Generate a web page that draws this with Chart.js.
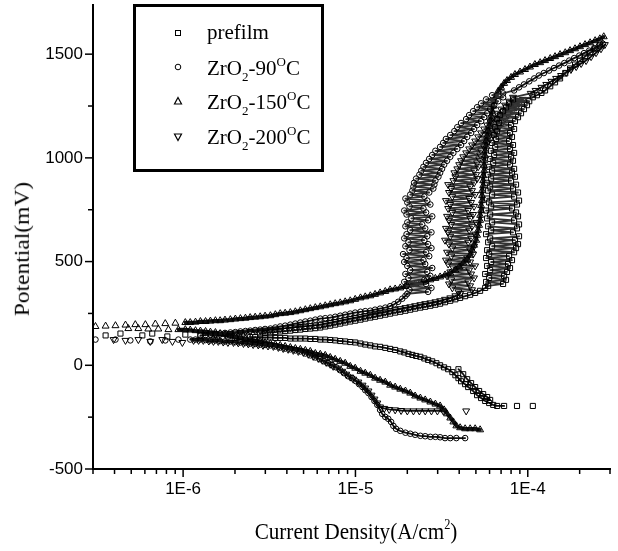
<!DOCTYPE html>
<html>
<head>
<meta charset="utf-8">
<script src="https://cdn.jsdelivr.net/npm/chart.js@4.4.0/dist/chart.umd.min.js"></script>
<style>
html, body { margin: 0; padding: 0; background: #fff; }
#wrap { position: relative; width: 618px; height: 551px; overflow: hidden; }
#c { position: absolute; left: 0; top: 0; }
.serif { position: absolute; font-family: 'Liberation Serif', 'Times New Roman', serif; color: #000; white-space: nowrap; line-height: 21px; font-size: 21px; }
.serif sub { font-size: 13px; vertical-align: -6px; line-height: 0; }
.serif sup { font-size: 13px; vertical-align: 9px; line-height: 0; }
#ytitle { left: 22px; top: 249px; font-size: 23.5px; transform: translate(-50%, -50%) rotate(-90deg) scaleY(0.9); }
#xtitle { left: 356px; top: 531px; font-size: 24px; transform: translate(-50%, -50%) scaleX(0.88); }
#xtitle sup { font-size: 14px; vertical-align: 10px; }
#legend { position: absolute; left: 133px; top: 4px; width: 191px; height: 168px; border: 3px solid #000; box-sizing: border-box; }
.mk { position: absolute; left: 171px; width: 14px; height: 14px; }
</style>
</head>
<body>
<div id="wrap">
  <canvas id="c" width="618" height="551"></canvas>
  <div id="legend"></div>
  <svg class="mk" style="top:26px" viewBox="0 0 14 14"><rect x="4.5" y="4.5" width="5" height="5" fill="none" stroke="#000" stroke-width="1"/></svg>
  <svg class="mk" style="top:60px" viewBox="0 0 14 14"><circle cx="7" cy="7" r="2.8" fill="none" stroke="#000" stroke-width="1"/></svg>
  <svg class="mk" style="top:94px" viewBox="0 0 14 14"><polygon points="7,3.5 10.5,10 3.5,10" fill="none" stroke="#000" stroke-width="1.2"/></svg>
  <svg class="mk" style="top:130px" viewBox="0 0 14 14"><polygon points="3.5,4 10.5,4 7,10.5" fill="none" stroke="#000" stroke-width="1.2"/></svg>
  <div class="serif" style="left:207px; top:22px">prefilm</div>
  <div class="serif" style="left:207px; top:58px">ZrO<sub>2</sub>-90<sup>O</sup>C</div>
  <div class="serif" style="left:207px; top:92px">ZrO<sub>2</sub>-150<sup>O</sup>C</div>
  <div class="serif" style="left:207px; top:127px">ZrO<sub>2</sub>-200<sup>O</sup>C</div>
  <div class="serif" id="ytitle">Potential(mV)</div>
  <div class="serif" id="xtitle">Current Density(A/cm<sup>2</sup>)</div>
</div>
<script>
// [current density (A/cm2), potential (mV)], in scan order:
// cathodic branch (far end -> corrosion potential), then anodic branch
var prefilm = [
  [1.07e-4,-196],[8.66e-5,-196],[7.29e-5,-196],[6.64e-5,-196],[6.3e-5,-191],[5.97e-5,-182],[5.66e-5,-172],
  [5.36e-5,-158],[5.08e-5,-144],[4.82e-5,-124],[4.51e-5,-105],[4.33e-5,-91],[4.1e-5,-77],[3.96e-5,-62],
  [3.8e-5,-48],[3.65e-5,-33],[3.45e-5,-19],[3.27e-5,-10],[3.1e-5,0],[2.95e-5,10],[2.79e-5,19],[2.64e-5,26],
  [2.51e-5,33],[2.38e-5,41],[2.25e-5,45],[2.14e-5,50],[2.03e-5,55],[1.92e-5,62],[1.82e-5,67],[1.7e-5,74],
  [1.59e-5,79],[1.49e-5,84],[1.39e-5,89],[1.3e-5,91],[1.22e-5,96],[1.14e-5,100],[1.07e-5,105],[9.97e-6,110],
  [9.33e-6,112],[8.72e-6,115],[8.16e-6,117],[7.63e-6,120],[7.14e-6,122],[6.68e-6,124],[6.25e-6,124],[5.85e-6,127],
  [5.47e-6,127],[5.12e-6,129],[4.79e-6,129],[4.48e-6,129],[4.19e-6,129],[3.91e-6,132],[3.66e-6,132],[3.43e-6,132],
  [3.21e-6,134],[2.99e-6,134],[2.8e-6,134],[2.62e-6,136],[2.45e-6,136],
  [2.15e-6,139],[1.83e-6,139],[1.54e-6,144],[1.26e-6,144],[1.03e-6,148],[8.1e-7,139],[6.62e-7,153],[5.8e-7,144],
  [4.33e-7,153],[3.55e-7,144],
  [3.96e-5,-19],[4.22e-5,-43],[4.45e-5,-67],[4.69e-5,-86],[4.95e-5,-105],[5.22e-5,-124],[5.51e-5,-139],
  [5.81e-5,-153],[6.05e-5,-167],
  [2.8e-6,153],[2.99e-6,156],[3.21e-6,158],[3.43e-6,160],[3.66e-6,163],[3.91e-6,165],[4.19e-6,167],[4.48e-6,170],
  [4.79e-6,172],[5.12e-6,175],[5.47e-6,177],[5.85e-6,179],[6.25e-6,182],[6.68e-6,187],[7.14e-6,191],[7.63e-6,196],
  [8.16e-6,201],[8.72e-6,206],[9.33e-6,211],[9.97e-6,215],[1.07e-5,220],[1.14e-5,225],[1.22e-5,230],[1.3e-5,234],
  [1.39e-5,239],[1.49e-5,244],[1.59e-5,249],[1.7e-5,254],[1.82e-5,258],[1.95e-5,263],[2.08e-5,268],[2.22e-5,273],
  [2.38e-5,278],[2.54e-5,282],[2.72e-5,287],[2.91e-5,292],[3.1e-5,297],[3.31e-5,304],[3.55e-5,311],[3.8e-5,318],
  [4.05e-5,325],[4.33e-5,333],[4.63e-5,340],[4.95e-5,349],[5.29e-5,359],[5.66e-5,373],
  [5.89e-5,383],[7.19e-5,392],[5.73e-5,402],[7.48e-5,412],[5.97e-5,421],[7.29e-5,431],[5.66e-5,440],[7.58e-5,450],
  [6.05e-5,459],[7.89e-5,469],[5.81e-5,479],[7.68e-5,488],[6.13e-5,498],[8.1e-5,507],[5.73e-5,517],[7.79e-5,526],
  [5.97e-5,536],[8.33e-5,545],[5.81e-5,555],[8.55e-5,565],[6.21e-5,574],[8.78e-5,584],[5.89e-5,593],[8.43e-5,603],
  [6.05e-5,612],[8.9e-5,622],[5.73e-5,632],[8.21e-5,641],[6.13e-5,651],[8.66e-5,660],[5.89e-5,670],[8.9e-5,679],
  [6.21e-5,689],[8.33e-5,699],[5.81e-5,708],[8.78e-5,718],[6.05e-5,727],[8.55e-5,737],[5.73e-5,746],[8.1e-5,756],
  [6.13e-5,766],[8.66e-5,775],[5.97e-5,785],[8.9e-5,794],[5.81e-5,804],[8.33e-5,813],[6.21e-5,823],[8.78e-5,833],
  [5.89e-5,842],[8.21e-5,852],[6.05e-5,861],[8.55e-5,871],[5.81e-5,880],[8.0e-5,890],[6.13e-5,900],[8.43e-5,909],
  [5.89e-5,919],[8.1e-5,928],[6.21e-5,938],[8.33e-5,947],[5.97e-5,957],[7.89e-5,967],[6.3e-5,976],[8.21e-5,986],
  [6.05e-5,995],[8.0e-5,1005],[6.38e-5,1014],[8.33e-5,1024],[6.13e-5,1034],[7.89e-5,1043],[6.47e-5,1053],
  [8.21e-5,1062],[6.21e-5,1072],[7.79e-5,1081],[6.55e-5,1091],[8.1e-5,1101],[6.38e-5,1110],[7.89e-5,1120],
  [6.64e-5,1129],[8.33e-5,1139],[6.47e-5,1148],[8.0e-5,1158],[6.82e-5,1168],[8.43e-5,1177],[6.64e-5,1187],
  [8.78e-5,1196],[6.91e-5,1206],[9.14e-5,1215],[7.19e-5,1225],[9.51e-5,1235],[7.48e-5,1244],[9.9e-5,1254],
  [7.79e-5,1263],[1.02e-4,1273],[8.21e-5,1282],
  [1.07e-4,1292],[1.13e-4,1302],[1.2e-4,1313],[1.26e-4,1325],[1.35e-4,1345],[1.44e-4,1364],[1.54e-4,1383],
  [1.65e-4,1407],[1.76e-4,1431],[1.88e-4,1450],[2.01e-4,1469],[2.15e-4,1488],[2.3e-4,1507],[2.46e-4,1526],
  [2.62e-4,1546]
];

var zr90 = [
  [4.33e-5,-351],[3.85e-5,-351],[3.55e-5,-351],[3.31e-5,-351],[3.1e-5,-347],[2.91e-5,-345],[2.72e-5,-345],
  [2.54e-5,-342],[2.38e-5,-340],[2.22e-5,-335],[2.08e-5,-330],[1.95e-5,-325],[1.82e-5,-316],[1.72e-5,-306],
  [1.66e-5,-292],[1.61e-5,-273],[1.55e-5,-258],[1.49e-5,-249],[1.43e-5,-234],[1.39e-5,-215],[1.34e-5,-191],
  [1.29e-5,-172],[1.24e-5,-153],[1.19e-5,-134],[1.14e-5,-120],[1.1e-5,-105],[1.05e-5,-91],[1.01e-5,-77],
  [9.58e-6,-62],[9.08e-6,-53],[8.6e-6,-38],[8.16e-6,-24],[7.73e-6,-10],[7.33e-6,0],[6.95e-6,10],[6.59e-6,19],
  [6.25e-6,29],[5.85e-6,38],[5.47e-6,48],[5.12e-6,57],[4.79e-6,67],[4.48e-6,72],[4.19e-6,77],[3.91e-6,81],
  [3.66e-6,86],[3.43e-6,91],[3.21e-6,96],[2.99e-6,98],[2.8e-6,100],[2.62e-6,103],[2.45e-6,105],[2.3e-6,108],
  [2.15e-6,110],[2.01e-6,112],[1.88e-6,115],[1.75e-6,115],[1.64e-6,117],[1.54e-6,120],[1.44e-6,120],[1.35e-6,122],
  [1.26e-6,124],[1.18e-6,124],[1.1e-6,124],
  [9.39e-7,124],[7.88e-7,120],[6.45e-7,115],[4.94e-7,120],[4.05e-7,124],[3.1e-7,124],
  [1.26e-6,144],[1.35e-6,146],[1.44e-6,148],[1.54e-6,151],[1.64e-6,153],[1.75e-6,156],[1.88e-6,158],[2.01e-6,160],
  [2.15e-6,163],[2.3e-6,165],[2.45e-6,167],[2.62e-6,170],[2.8e-6,172],[2.99e-6,175],[3.21e-6,177],[3.43e-6,182],
  [3.66e-6,187],[3.91e-6,191],[4.19e-6,196],[4.48e-6,201],[4.79e-6,206],[5.12e-6,211],[5.47e-6,215],[5.85e-6,220],
  [6.25e-6,225],[6.68e-6,227],[7.14e-6,230],[7.63e-6,234],[8.16e-6,239],[8.72e-6,244],[9.33e-6,249],[9.97e-6,254],
  [1.07e-5,258],[1.14e-5,261],[1.22e-5,263],[1.3e-5,268],[1.39e-5,273],[1.49e-5,278],[1.59e-5,285],[1.68e-5,294],
  [1.77e-5,306],[1.87e-5,321],[1.95e-5,335],
  [2.0e-5,345],[2.64e-5,354],[2.06e-5,364],[2.76e-5,373],[1.98e-5,383],[2.57e-5,392],[1.92e-5,402],[2.51e-5,412],
  [2.03e-5,421],[2.72e-5,431],[1.95e-5,440],[2.61e-5,450],[2.08e-5,459],[2.79e-5,469],[2.0e-5,479],[2.54e-5,488],
  [1.92e-5,498],[2.48e-5,507],[1.98e-5,517],[2.68e-5,526],[1.89e-5,536],[2.57e-5,545],[2.06e-5,555],[2.76e-5,565],
  [1.95e-5,574],[2.64e-5,584],[2.03e-5,593],[2.51e-5,603],[1.92e-5,612],[2.61e-5,622],[1.98e-5,632],[2.76e-5,641],
  [2.08e-5,651],[2.54e-5,660],[1.95e-5,670],[2.44e-5,679],[2.0e-5,689],[2.64e-5,699],[2.11e-5,708],[2.79e-5,718],
  [1.98e-5,727],[2.57e-5,737],[1.92e-5,746],[2.48e-5,756],[2.06e-5,766],[2.72e-5,775],[2.0e-5,785],[2.61e-5,794],
  [1.95e-5,804],[2.51e-5,813],[2.08e-5,823],[2.68e-5,833],
  [2.14e-5,842],[2.83e-5,852],[2.17e-5,861],[2.87e-5,871],[2.19e-5,880],[2.91e-5,890],[2.25e-5,900],[3.03e-5,909],
  [2.35e-5,919],[3.1e-5,928],[2.41e-5,938],[3.18e-5,947],[2.48e-5,957],[3.27e-5,967],[2.57e-5,976],[3.4e-5,986],
  [2.68e-5,995],[3.55e-5,1005],[2.79e-5,1014],[3.7e-5,1024],[2.91e-5,1034],[3.9e-5,1043],[3.1e-5,1053],
  [4.1e-5,1062],[3.23e-5,1072],[4.27e-5,1081],[3.35e-5,1091],[4.45e-5,1101],[3.55e-5,1110],[4.69e-5,1120],
  [3.75e-5,1129],[4.88e-5,1139],[3.9e-5,1148],[5.08e-5,1158],[4.1e-5,1168],[5.36e-5,1177],[4.39e-5,1187],
  [5.58e-5,1196],[4.57e-5,1206],[5.81e-5,1215],[4.82e-5,1225],[6.05e-5,1235],[5.08e-5,1244],[6.38e-5,1254],
  [5.36e-5,1263],[6.73e-5,1273],[5.73e-5,1282],[7.19e-5,1292],[6.21e-5,1302],[7.19e-5,1311],
  [8.33e-5,1325],[8.9e-5,1340],[9.51e-5,1354],[1.02e-4,1369],[1.09e-4,1383],[1.16e-4,1397],[1.24e-4,1409],
  [1.33e-4,1421],[1.42e-4,1433],[1.52e-4,1445],[1.63e-4,1457],[1.74e-4,1469],[1.86e-4,1481],[1.99e-4,1493],
  [2.12e-4,1505],[2.27e-4,1517],[2.43e-4,1529],[2.59e-4,1541],[2.73e-4,1550]
];

var zr150 = [
  [5.29e-5,-311],[4.95e-5,-306],[4.63e-5,-306],[4.33e-5,-306],[4.05e-5,-301],[3.85e-5,-292],[3.7e-5,-273],
  [3.55e-5,-254],[3.4e-5,-234],[3.27e-5,-215],[3.1e-5,-196],[2.91e-5,-187],[2.72e-5,-177],[2.54e-5,-167],
  [2.38e-5,-158],[2.22e-5,-148],[2.08e-5,-134],[1.95e-5,-124],[1.82e-5,-115],[1.7e-5,-105],[1.59e-5,-96],
  [1.49e-5,-81],[1.39e-5,-72],[1.3e-5,-62],[1.22e-5,-48],[1.14e-5,-38],[1.07e-5,-29],[9.97e-6,-14],[9.33e-6,-5],
  [8.72e-6,10],[8.16e-6,19],[7.63e-6,29],[7.14e-6,38],[6.68e-6,48],[6.25e-6,53],[5.85e-6,57],[5.47e-6,67],
  [5.12e-6,72],[4.79e-6,77],[4.48e-6,81],[4.19e-6,86],[3.91e-6,91],[3.66e-6,96],[3.43e-6,100],[3.21e-6,105],
  [2.99e-6,110],[2.8e-6,115],[2.62e-6,120],[2.45e-6,124],[2.3e-6,129],[2.15e-6,134],[2.01e-6,139],[1.88e-6,144],
  [1.75e-6,148],[1.64e-6,153],[1.54e-6,158],[1.44e-6,160],[1.35e-6,163],[1.26e-6,165],[1.18e-6,167],[1.1e-6,170],
  [1.03e-6,172],[9.39e-7,172],[8.22e-7,172],[7.18e-7,175],[6.28e-7,175],[5.5e-7,177],[4.81e-7,177],
  [3.1e-7,187],[3.55e-7,189],[4.05e-7,191],[4.63e-7,194],[5.28e-7,196],[6.04e-7,196],[6.9e-7,199],[7.88e-7,201],
  [9.02e-7,203],[1.03e-6,206],[1.1e-6,206],[1.18e-6,208],[1.26e-6,211],[1.35e-6,211],[1.44e-6,213],[1.54e-6,215],
  [1.64e-6,215],[1.75e-6,218],[1.88e-6,220],[2.01e-6,223],[2.15e-6,225],[2.3e-6,227],[2.45e-6,230],[2.62e-6,232],
  [2.8e-6,234],[2.99e-6,237],[3.21e-6,239],[3.43e-6,244],[3.66e-6,249],[3.91e-6,251],[4.19e-6,254],[4.48e-6,258],
  [4.79e-6,263],[5.12e-6,268],[5.47e-6,273],[5.85e-6,278],[6.25e-6,282],[6.68e-6,287],[7.14e-6,292],[7.63e-6,297],
  [8.16e-6,301],[8.72e-6,306],[9.33e-6,311],[9.97e-6,318],[1.07e-5,325],[1.14e-5,330],[1.22e-5,335],[1.3e-5,342],
  [1.39e-5,349],[1.49e-5,356],[1.59e-5,364],[1.7e-5,368],[1.82e-5,373],[1.95e-5,380],[2.08e-5,388],[2.22e-5,392],
  [2.38e-5,397],[2.54e-5,404],[2.72e-5,412],[2.91e-5,419],[3.1e-5,426],[3.31e-5,435],[3.55e-5,445],[3.8e-5,459],
  [4.0e-5,474],[4.22e-5,493],[4.45e-5,512],[4.63e-5,531],[4.75e-5,555],[4.88e-5,579],[5.02e-5,603],[5.08e-5,627],
  [5.15e-5,651],[5.22e-5,675],[5.29e-5,699],[5.29e-5,723],[5.36e-5,746],[5.36e-5,770],[5.43e-5,794],[5.43e-5,818],
  [5.43e-5,842],[5.51e-5,866],[5.51e-5,890],[5.51e-5,914],[5.58e-5,938],[5.58e-5,962],[5.58e-5,986],[5.66e-5,1010],
  [5.66e-5,1034],[5.73e-5,1057],[5.73e-5,1081],[5.81e-5,1105],[5.89e-5,1129],[5.97e-5,1153],[6.05e-5,1177],
  [6.13e-5,1201],[6.21e-5,1225],[6.3e-5,1249],[6.38e-5,1273],[6.55e-5,1297],[6.73e-5,1321],[7.0e-5,1340],
  [7.29e-5,1359],[7.58e-5,1373],[8.0e-5,1388],[8.43e-5,1402],[9.02e-5,1414],[9.64e-5,1426],[1.03e-4,1438],
  [1.1e-4,1450],[1.18e-4,1459],[1.26e-4,1469],[1.35e-4,1479],[1.44e-4,1488],[1.54e-4,1498],[1.65e-4,1507],
  [1.76e-4,1517],[1.88e-4,1526],[2.01e-4,1536],[2.15e-4,1546],[2.3e-4,1555],[2.46e-4,1565],[2.62e-4,1574],
  [2.76e-4,1584]
];

var zr200 = [
  [4.39e-5,-220],[3.23e-5,-220],[2.99e-5,-220],[2.76e-5,-220],[2.54e-5,-220],[2.35e-5,-220],[2.17e-5,-220],
  [2.0e-5,-220],[1.84e-5,-218],[1.7e-5,-215],[1.57e-5,-213],[1.47e-5,-208],[1.39e-5,-201],[1.34e-5,-182],
  [1.29e-5,-163],[1.24e-5,-144],[1.19e-5,-124],[1.14e-5,-110],[1.1e-5,-96],[1.04e-5,-81],[9.71e-6,-67],
  [9.33e-6,-57],[8.84e-6,-43],[8.38e-6,-29],[7.94e-6,-14],[7.43e-6,-5],[7.14e-6,5],[6.77e-6,14],[6.42e-6,24],
  [6.09e-6,33],[5.69e-6,43],[5.33e-6,53],[4.99e-6,62],[4.66e-6,67],[4.36e-6,72],[4.07e-6,77],[3.81e-6,81],
  [3.57e-6,86],[3.34e-6,91],[3.11e-6,93],[2.91e-6,96],[2.73e-6,98],[2.55e-6,100],[2.39e-6,103],[2.24e-6,105],
  [2.09e-6,108],[1.96e-6,110],[1.82e-6,110],[1.71e-6,112],[1.6e-6,115],[1.5e-6,115],[1.41e-6,117],[1.31e-6,120],
  [1.23e-6,120],[1.15e-6,120],
  [9.9e-7,110],[8.67e-7,115],[7.57e-7,124],[6.45e-7,115],[5.5e-7,124],[4.63e-7,120],[3.95e-7,124],
  [1.44e-6,144],[1.54e-6,146],[1.64e-6,148],[1.75e-6,151],[1.88e-6,153],[2.01e-6,156],[2.15e-6,158],[2.3e-6,160],
  [2.45e-6,163],[2.62e-6,165],[2.8e-6,167],[2.99e-6,170],[3.21e-6,172],[3.43e-6,175],[3.66e-6,177],[3.91e-6,179],
  [4.19e-6,182],[4.48e-6,184],[4.79e-6,187],[5.12e-6,189],[5.47e-6,191],[5.85e-6,194],[6.25e-6,196],[6.68e-6,201],
  [7.14e-6,206],[7.63e-6,211],[8.16e-6,215],[8.72e-6,220],[9.33e-6,225],[9.97e-6,230],[1.07e-5,234],[1.14e-5,239],
  [1.22e-5,244],[1.3e-5,249],[1.39e-5,254],[1.49e-5,258],[1.59e-5,263],[1.7e-5,268],[1.82e-5,273],[1.95e-5,278],
  [2.08e-5,282],[2.22e-5,287],[2.38e-5,292],[2.54e-5,297],[2.72e-5,301],[2.91e-5,306],[3.1e-5,311],[3.31e-5,318],
  [3.55e-5,325],[3.8e-5,335],[4.05e-5,345],
  [3.96e-5,354],[4.75e-5,364],[3.65e-5,373],[4.63e-5,383],[3.49e-5,392],[4.51e-5,402],[3.6e-5,412],[4.88e-5,421],
  [3.4e-5,431],[4.69e-5,440],[3.55e-5,450],[4.57e-5,459],[3.7e-5,469],[4.95e-5,479],[3.45e-5,488],[4.63e-5,498],
  [3.35e-5,507],[4.45e-5,517],[3.6e-5,526],[4.82e-5,536],[3.4e-5,545],[4.63e-5,555],[3.65e-5,565],[4.88e-5,574],
  [3.49e-5,584],[4.51e-5,593],[3.31e-5,603],[4.69e-5,612],[3.55e-5,622],[4.95e-5,632],[3.45e-5,641],[4.57e-5,651],
  [3.35e-5,660],[4.75e-5,670],[3.6e-5,679],[5.02e-5,689],[3.49e-5,699],[4.63e-5,708],[3.4e-5,718],[4.82e-5,727],
  [3.65e-5,737],[4.51e-5,746],[3.45e-5,756],[4.88e-5,766],[3.55e-5,775],[4.69e-5,785],[3.35e-5,794],[4.57e-5,804],
  [3.65e-5,813],[4.95e-5,823],[3.49e-5,833],[4.75e-5,842],[3.6e-5,852],[4.63e-5,861],[3.45e-5,871],[4.88e-5,880],
  [3.7e-5,890],[5.08e-5,900],[3.8e-5,909],[5.02e-5,919],[3.75e-5,928],[4.88e-5,938],[3.9e-5,947],[5.15e-5,957],
  [4.0e-5,967],[5.08e-5,976],[4.1e-5,986],[5.22e-5,995],[4.22e-5,1005],[5.29e-5,1014],[4.39e-5,1024],
  [5.36e-5,1034],[4.57e-5,1043],[5.58e-5,1053],[4.75e-5,1062],[5.81e-5,1072],[4.95e-5,1081],[6.05e-5,1091],
  [5.15e-5,1101],[6.3e-5,1110],[5.36e-5,1120],[6.55e-5,1129],[5.58e-5,1139],[6.82e-5,1148],[5.81e-5,1158],
  [7.1e-5,1168],[6.05e-5,1177],[7.38e-5,1187],[6.38e-5,1196],[7.68e-5,1206],[6.64e-5,1215],[8.1e-5,1225],
  [7.0e-5,1235],[8.55e-5,1244],[7.38e-5,1254],[8.9e-5,1263],[7.79e-5,1273],[9.39e-5,1282],[8.21e-5,1292],
  [1.04e-4,1311],[1.11e-4,1325],[1.2e-4,1340],[1.28e-4,1354],[1.37e-4,1369],[1.46e-4,1383],[1.56e-4,1397],
  [1.67e-4,1412],[1.78e-4,1426],[1.91e-4,1440],[2.04e-4,1455],[2.18e-4,1469],[2.33e-4,1488],[2.49e-4,1507],
  [2.66e-4,1526],[2.8e-4,1546]
];

var xTickValues = [3e-7,4e-7,5e-7,6e-7,7e-7,8e-7,9e-7,1e-6,2e-6,3e-6,4e-6,5e-6,6e-6,7e-6,8e-6,9e-6,
  1e-5,2e-5,3e-5,4e-5,5e-5,6e-5,7e-5,8e-5,9e-5,1e-4,2e-4,3e-4];
var yTickValues = [-500,-250,0,250,500,750,1000,1250,1500];
var xMin = 3e-7, xMax = 3e-4;
var yMin = -500, yMax = 1737;

var maxGap = 9;          // px: neighbouring readings closer than this merge into a band
var pittingFrom = 340;   // mV: above this the noisy pitting scatter is packed tight
var pittingGap = 30;     // px

function toPts(arr) {
  return arr.map(function(p) { return { x: p[0], y: p[1] }; });
}

function bandColor(ctx) {
  var ys = ctx.chart.scales.y;
  var lim = ys.getPixelForValue(pittingFrom);
  var dx = ctx.p1.x - ctx.p0.x, dy = ctx.p1.y - ctx.p0.y;
  var d = Math.sqrt(dx * dx + dy * dy);
  if (d <= maxGap) return undefined;
  if (ctx.p0.y < lim && ctx.p1.y < lim && d <= pittingGap) return '#333';
  return 'rgba(0,0,0,0)';
}

function series(label, arr, style, radius, rot, lw) {
  return {
    label: label,
    data: toPts(arr),
    showLine: true,
    borderColor: '#111',
    borderWidth: lw,
    borderJoinStyle: 'round',
    borderCapStyle: 'round',
    tension: 0,
    segment: { borderColor: bandColor },
    pointStyle: style,
    pointRadius: radius,
    pointRotation: rot,
    pointBorderWidth: 1,
    pointBorderColor: '#000',
    pointBackgroundColor: 'rgba(0,0,0,0)',
    backgroundColor: 'rgba(0,0,0,0)'
  };
}

function isDecade(v) {
  var l = Math.log10(v);
  return Math.abs(l - Math.round(l)) < 1e-6;
}

// short and long tick marks drawn outside the axes
var tickMarks = {
  id: 'tickMarks',
  afterDraw: function(chart) {
    var ctx = chart.ctx, xs = chart.scales.x, ys = chart.scales.y;
    ctx.save();
    ctx.strokeStyle = '#000';
    ctx.lineWidth = 1.5;
    xs.ticks.forEach(function(t) {
      var px = xs.getPixelForValue(t.value);
      var len = isDecade(t.value) ? 8 : 5;
      ctx.beginPath();
      ctx.moveTo(px, xs.top);
      ctx.lineTo(px, xs.top + len);
      ctx.stroke();
    });
    ys.ticks.forEach(function(t) {
      var py = ys.getPixelForValue(t.value);
      var len = t.value % 500 === 0 ? 8 : 5;
      ctx.beginPath();
      ctx.moveTo(ys.right, py);
      ctx.lineTo(ys.right - len, py);
      ctx.stroke();
    });
    ctx.restore();
  }
};

new Chart(document.getElementById('c'), {
  type: 'scatter',
  data: {
    datasets: [
      series('prefilm', prefilm, 'rect', 3.6, 0, 1.8),
      series('ZrO2-90°C', zr90, 'circle', 2.8, 0, 1.8),
      series('ZrO2-150°C', zr150, 'triangle', 4, 0, 3.5),
      series('ZrO2-200°C', zr200, 'triangle', 4, 180, 1.8)
    ]
  },
  options: {
    responsive: false,
    animation: false,
    devicePixelRatio: 1,
    layout: { padding: { top: 4, right: 8, left: 0, bottom: 0 } },
    plugins: { legend: { display: false }, tooltip: { enabled: false } },
    scales: {
      x: {
        type: 'logarithmic',
        min: xMin,
        max: xMax,
        grid: { display: false, drawTicks: false },
        border: { display: true, color: '#000', width: 2 },
        afterBuildTicks: function(s) {
          s.ticks = xTickValues.map(function(v) { return { value: v }; });
        },
        ticks: {
          autoSkip: false,
          maxRotation: 0,
          padding: 10,
          color: '#000',
          font: { family: 'Liberation Sans', size: 17 },
          callback: function(v) {
            return isDecade(v) ? '1E' + Math.round(Math.log10(v)) : '';
          }
        },
        afterFit: function(s) { s.height = 82; s.paddingLeft = 0; s.paddingRight = 0; }
      },
      y: {
        min: yMin,
        max: yMax,
        grid: { display: false, drawTicks: false },
        border: { display: true, color: '#000', width: 2 },
        afterBuildTicks: function(s) {
          s.ticks = yTickValues.map(function(v) { return { value: v }; });
        },
        ticks: {
          autoSkip: false,
          padding: 10,
          color: '#000',
          font: { family: 'Liberation Sans', size: 17 },
          callback: function(v) { return v % 500 === 0 ? String(v) : ''; }
        },
        afterFit: function(s) { s.width = 93; s.paddingTop = 0; s.paddingBottom = 0; }
      }
    }
  },
  plugins: [tickMarks]
});
</script>
</body>
</html>
